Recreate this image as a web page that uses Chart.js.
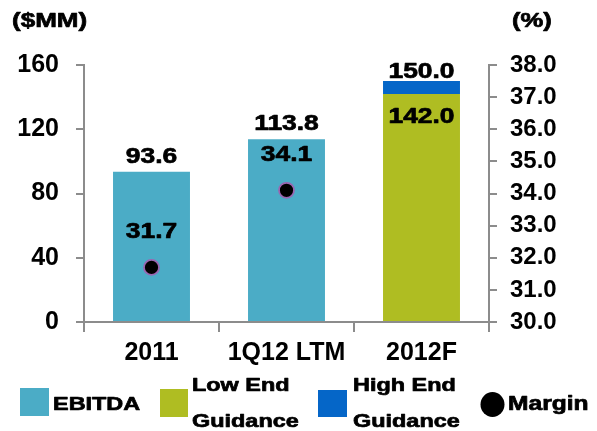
<!DOCTYPE html>
<html>
<head>
<meta charset="utf-8">
<title>EBITDA and Margin</title>
<script src="https://cdn.jsdelivr.net/npm/chart.js@4.4.1/dist/chart.umd.min.js"></script>
<style>
  html, body { margin: 0; padding: 0; background: #fff; }
  #wrap { width: 597px; height: 431px; }
</style>
</head>
<body>
<div id="wrap"><canvas id="ebitdaChart" width="597" height="431"></canvas></div>
<script>
// Categories and series
const categories = ["2011", "1Q12 LTM", "2012F"];
const ebitda = [93.6, 113.8, null];
const lowEndGuidance = [null, null, 142.0];
const highEndGuidance = [null, null, 150.0];
const margin = [31.7, 34.1, null];

// Axis tick labels
const leftTicks = [0, 40, 80, 120, 160];
const rightTicks = [30, 31, 32, 33, 34, 35, 36, 37, 38];

const FONT = '"Liberation Sans", Arial, sans-serif';
const AXIS = "#8c8c8c";
const COLORS = { ebitda: "#4bacc6", low: "#afbd22", high: "#0566c8", margin: "#000" };

// the high end bar sits on top of the low end one
const highEndSegment = highEndGuidance.map((v, i) => (v == null ? null : v - lowEndGuidance[i]));

// bold text, widened horizontally and thickened a little
function wideText(ctx, text, x, y, size, align, sx) {
    ctx.save();
    ctx.font = `bold ${size}px ${FONT}`;
    ctx.fillStyle = "#000";
    ctx.strokeStyle = "#000";
    ctx.lineWidth = 0.7;
    ctx.lineJoin = "round";
    ctx.textAlign = align;
    ctx.textBaseline = "alphabetic";
    ctx.translate(x, y);
    ctx.scale(sx, 1);
    ctx.fillText(text, 0, 0);
    ctx.strokeText(text, 0, 0);
    ctx.restore();
}

const labelsPlugin = {
    id: "labelsPlugin",
    afterDraw(chart) {
        const ctx = chart.ctx;

        // axis titles
        wideText(ctx, "($MM)", 12, 27, 21, "left", 1.24);
        wideText(ctx, "(%)", 512, 27, 21, "left", 1.22);

        // EBITDA values above bars
        chart.getDatasetMeta(0).data.forEach((bar, i) => {
            if (ebitda[i] == null) return;
            wideText(ctx, ebitda[i].toFixed(1), bar.x, bar.y - 9, 22, "center", 1.2);
        });
        // guidance range
        chart.getDatasetMeta(1).data.forEach((bar, i) => {
            if (lowEndGuidance[i] == null) return;
            wideText(ctx, lowEndGuidance[i].toFixed(1), bar.x, bar.y + 29, 22, "center", 1.2);
        });
        chart.getDatasetMeta(2).data.forEach((bar, i) => {
            if (highEndGuidance[i] == null) return;
            wideText(ctx, highEndGuidance[i].toFixed(1), bar.x, bar.y - 3, 22, "center", 1.2);
        });
        // margin values above points
        chart.getDatasetMeta(3).data.forEach((pt, i) => {
            if (margin[i] == null) return;
            wideText(ctx, margin[i].toFixed(1), pt.x, pt.y - 29, 22, "center", 1.2);
        });

        // legend
        const ds = chart.data.datasets;
        ctx.save();
        ctx.fillStyle = ds[0].backgroundColor;
        ctx.fillRect(20, 388, 29, 28);
        ctx.fillStyle = ds[1].backgroundColor;
        ctx.fillRect(160, 389, 28, 28);
        ctx.fillStyle = ds[2].backgroundColor;
        ctx.fillRect(318, 390, 29, 27);
        ctx.fillStyle = ds[3].pointBackgroundColor;
        ctx.beginPath();
        ctx.ellipse(492.5, 404.5, 12, 12.5, 0, 0, Math.PI * 2);
        ctx.fill();
        ctx.restore();

        wideText(ctx, "EBITDA", 53, 410, 18.6, "left", 1.26);
        wideText(ctx, "Low End", 192, 390.5, 18.6, "left", 1.26);
        wideText(ctx, "Guidance", 192, 427, 18.6, "left", 1.26);
        wideText(ctx, "High End", 353, 390.5, 18.6, "left", 1.26);
        wideText(ctx, "Guidance", 353, 427, 18.6, "left", 1.26);
        wideText(ctx, "Margin", 508, 410, 19.5, "left", 1.26);
    }
};

const ctx = document.getElementById("ebitdaChart").getContext("2d");

new Chart(ctx, {
    type: "bar",
    data: {
        labels: categories,
        datasets: [
            { label: "EBITDA", data: ebitda, backgroundColor: COLORS.ebitda, order: 1 },
            { label: "Low End Guidance", data: lowEndGuidance, backgroundColor: COLORS.low, order: 1 },
            { label: "High End Guidance", data: highEndSegment, backgroundColor: COLORS.high, order: 1 },
            {
                type: "line",
                label: "Margin",
                data: margin,
                yAxisID: "y1",
                showLine: false,
                pointRadius: 7.5,
                pointBackgroundColor: COLORS.margin,
                pointBorderColor: "#9a66b0",
                pointBorderWidth: 1.8,
                order: 0,
            },
        ],
    },
    options: {
        responsive: false,
        devicePixelRatio: 1,
        animation: false,
        layout: { padding: { top: 65, left: 0, right: 0, bottom: 0 } },
        datasets: { bar: { barPercentage: 0.57, categoryPercentage: 1 } },
        plugins: {
            legend: { display: false },
            tooltip: { enabled: false },
        },
        scales: {
            x: {
                stacked: true,
                offset: true,
                grid: { display: true, drawOnChartArea: false, tickLength: 10, color: AXIS, lineWidth: 2, offset: true },
                border: { color: AXIS, width: 2 },
                ticks: { color: "#000", font: { family: FONT, size: 25, weight: "bold" }, padding: 6, maxRotation: 0, autoSkip: false },
                afterFit: (s) => { s.height = 109; },
            },
            y: {
                position: "left",
                stacked: true,
                min: 0,
                max: 160,
                afterBuildTicks: (s) => { s.ticks = leftTicks.map((v) => ({ value: v })); },
                grid: { drawOnChartArea: false, tickLength: 8, color: AXIS, lineWidth: 2 },
                border: { color: AXIS, width: 2 },
                ticks: { color: "#000", font: { family: FONT, size: 25, weight: "bold" }, padding: 17 },
                afterFit: (s) => { s.width = 84; },
            },
            y1: {
                position: "right",
                min: 30,
                max: 38,
                afterBuildTicks: (s) => { s.ticks = rightTicks.map((v) => ({ value: v })); },
                grid: { drawOnChartArea: false, tickLength: 8, color: AXIS, lineWidth: 2 },
                border: { color: AXIS, width: 2 },
                ticks: {
                    color: "#000",
                    font: { family: FONT, size: 24, weight: "bold" },
                    padding: 13,
                    callback: (v) => Number(v).toFixed(1),
                },
                afterFit: (s) => { s.width = 108; },
            },
        },
    },
    plugins: [labelsPlugin],
});
</script>
</body>
</html>
